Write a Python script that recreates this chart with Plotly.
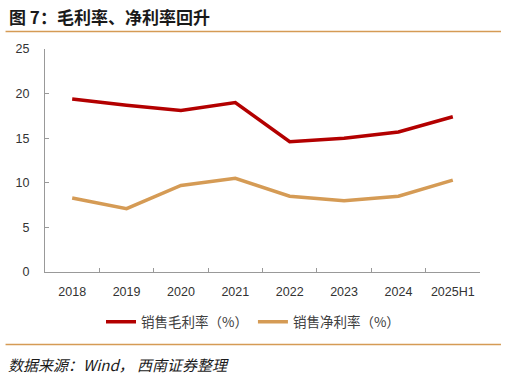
import plotly.graph_objects as go

categories = ["2018", "2019", "2020", "2021", "2022", "2023", "2024", "2025H1"]
gross_margin = [19.4, 18.7, 18.1, 19.0, 14.6, 15.0, 15.7, 17.4]
net_margin = [8.3, 7.1, 9.7, 10.5, 8.5, 8.0, 8.5, 10.3]
y_ticks = [0, 5, 10, 15, 20, 25]

RED = "#B30000"
GOLD = "#D59B55"
W, H = 506, 378
L, R, T, B = 44.5, 26, 49, 106
pw, ph = W - L - R, H - T - B

def px(x):
    return (x - L) / pw

def py(y):
    return (H - B - y) / ph

fig = go.Figure()
fig.add_trace(go.Scatter(x=categories, y=gross_margin, mode="lines",
                         name="销售毛利率（%）", line=dict(color=RED, width=3.5)))
fig.add_trace(go.Scatter(x=categories, y=net_margin, mode="lines",
                         name="销售净利率（%）", line=dict(color=GOLD, width=3.5)))

font_cjk = "Noto Sans CJK SC, Microsoft YaHei, sans-serif"
fig.update_layout(
    width=W, height=H,
    margin=dict(l=L, r=R, t=T, b=B, pad=0, autoexpand=False),
    paper_bgcolor="white", plot_bgcolor="white",
    font=dict(family=font_cjk, size=12, color="#333333"),
    showlegend=True,
    legend=dict(orientation="h", xref="container", yref="container",
                x=0.5, xanchor="center", y=1 - 322 / H, yanchor="middle",
                font=dict(size=13.5, color="#404040"), itemwidth=30,
                traceorder="normal", bgcolor="rgba(0,0,0,0)"),
    xaxis=dict(type="category", categoryorder="array", categoryarray=categories,
               range=[-0.5, 7.5], showgrid=False, showline=True,
               linecolor="#999999", linewidth=1.3, ticks="inside",
               tickson="boundaries", ticklen=4, tickcolor="#999999",
               tickfont=dict(family="Liberation Sans, Arial, sans-serif", size=12.5, color="#333333"),
               ticklabelstandoff=8, zeroline=False, fixedrange=True, automargin=False),
    yaxis=dict(range=[0, 25], tickvals=y_ticks, showgrid=False, showline=True,
               linecolor="#999999", linewidth=1.3, ticks="inside", ticklen=4,
               tickcolor="#999999",
               tickfont=dict(family="Liberation Sans, Arial, sans-serif", size=12.5, color="#333333"),
               ticklabelstandoff=12, zeroline=False, fixedrange=True, automargin=False),
    shapes=[
        dict(type="line", xref="paper", yref="paper", x0=px(5), x1=px(501),
             y0=py(31.5), y1=py(31.5), line=dict(color=GOLD, width=1.5)),
        dict(type="line", xref="paper", yref="paper", x0=px(5), x1=px(501),
             y0=py(344.5), y1=py(344.5), line=dict(color=GOLD, width=1.5)),
    ],
    annotations=[
        dict(text="<b>图 7：毛利率、净利率回升</b>", xref="paper", yref="paper",
             x=px(6), y=py(16), xanchor="left", yanchor="middle", showarrow=False,
             font=dict(family=font_cjk, size=17, color="#1a1a1a")),
        dict(text="<i>数据来源：Wind， 西南证券整理</i>", xref="paper", yref="paper",
             x=px(5), y=py(364), xanchor="left", yanchor="middle", showarrow=False,
             font=dict(family=font_cjk, size=15, color="#1a1a1a")),
    ],
)

fig.write_html("out.html", config={"displayModeBar": False},
               post_script="document.body.style.margin='0';document.body.style.overflow='hidden';")
